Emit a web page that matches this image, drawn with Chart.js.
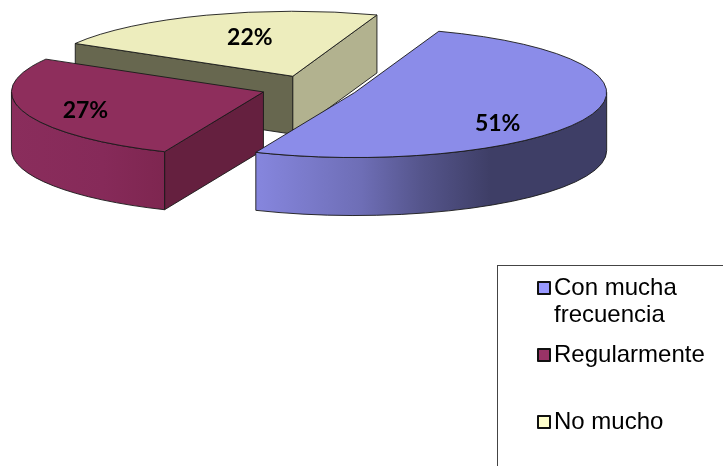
<!DOCTYPE html>
<html>
<head>
<meta charset="utf-8">
<title>Pie</title>
<script src="https://cdn.jsdelivr.net/npm/chart.js@4"></script>
<style>
  html, body { margin: 0; padding: 0; background: #fff; }
  #wrap { position: relative; width: 723px; height: 466px; overflow: hidden; }
  #legend {
    position: absolute; left: 497px; top: 265px; width: 240px; height: 220px;
    border: 1px solid #444; box-sizing: border-box;
    font: 24px/27px "Liberation Sans", Arial, sans-serif; color: #000;
  }
  .row { position: absolute; left: 56px; width: 140px; }
  .row i {
    position: absolute; left: -17px; top: 8px; width: 10px; height: 10px;
    border: 2px solid #111; border-radius: 1px;
  }
</style>
</head>
<body>
<div id="wrap">
  <canvas id="pie" width="723" height="466"></canvas>
  <div id="legend"></div>
</div>
<script>
const categories = ['Con mucha frecuencia', 'Regularmente', 'No mucho'];
const values = [51, 27, 22];
const valueLabels = ['51%', '27%', '22%'];

const topColors = ['#8b8ce9', '#8e2e5c', '#ededbd'];
const legendColors = ['#9999ff', '#993366', '#ffffcc'];
const startFaceColors = ['#3c3c64', '#65203f', '#67674f'];
const endFaceColors = ['#8585dc', '#65203f', '#b2b28f'];
const rimStops = [
  [[0, '#8686de'], [0.3, '#6e6eb6'], [0.47, '#55558c'], [0.67, '#3e3e66'], [1, '#3e3e66']],
  [[0, '#8a2d5c'], [0.6, '#862a59'], [1, '#7e2650']],
  [[0, '#b2b28f'], [1, '#b2b28f']]
];
// label position relative to the slice centre
const labelShift = [[143, 31], [-178, 19], [-43, -39]];

const ellipseA = 252;
const ellipseB = 65;
const depth = 58;
const explode = 48.5;
const edge = 'rgba(25,25,25,0.9)';

function drawSlice(ctx, el, i) {
  const s = el.startAngle, e = el.endAngle, mid = (s + e) / 2;
  const cx = el.x + Math.cos(mid) * explode;
  const cy = el.y + Math.sin(mid) * explode * ellipseB / ellipseA;
  const px = a => cx + Math.cos(a) * ellipseA;
  const py = a => cy + Math.sin(a) * ellipseB;

  const face = (a, color) => {
    ctx.beginPath();
    ctx.moveTo(cx, cy);
    ctx.lineTo(px(a), py(a));
    ctx.lineTo(px(a), py(a) + depth);
    ctx.lineTo(cx, cy + depth);
    ctx.closePath();
    ctx.fillStyle = color;
    ctx.fill();
    ctx.stroke();
  };

  ctx.lineWidth = 1;
  ctx.strokeStyle = edge;

  // side walls that look towards the viewer
  if (Math.sin(s - Math.PI / 2) > 0) face(s, startFaceColors[i]);
  if (Math.sin(e + Math.PI / 2) > 0) face(e, endFaceColors[i]);

  // outer rim, only the front half of the ellipse
  const a0 = Math.max(s, 0), a1 = Math.min(e, Math.PI);
  if (a1 > a0) {
    const left = a1 >= Math.PI ? cx - ellipseA : px(a1);
    const right = a0 <= 0 ? cx + ellipseA : px(a0);
    const grad = ctx.createLinearGradient(left, 0, right, 0);
    rimStops[i].forEach(st => grad.addColorStop(st[0], st[1]));
    ctx.beginPath();
    ctx.ellipse(cx, cy, ellipseA, ellipseB, 0, a0, a1);
    ctx.ellipse(cx, cy + depth, ellipseA, ellipseB, 0, a1, a0, true);
    ctx.closePath();
    ctx.fillStyle = grad;
    ctx.fill();
    ctx.stroke();
  }

  // top of the slice: the library's own arc, squashed into the ellipse
  ctx.save();
  ctx.translate(cx, cy);
  ctx.scale(ellipseA / el.outerRadius, ellipseB / el.outerRadius);
  ctx.translate(-el.x, -el.y);
  el.draw(ctx);
  ctx.restore();

  ctx.beginPath();
  ctx.moveTo(cx, cy);
  ctx.ellipse(cx, cy, ellipseA, ellipseB, 0, s, e);
  ctx.closePath();
  ctx.stroke();

  ctx.font = 'bold 23px Lato, sans-serif';
  ctx.fillStyle = '#000';
  ctx.textAlign = 'center';
  ctx.textBaseline = 'middle';
  ctx.fillText(valueLabels[i], cx + labelShift[i][0], cy + labelShift[i][1]);
}

const pie3d = {
  id: 'pie3d',
  beforeDatasetDraw(chart, args) {
    const ctx = chart.ctx;
    const arcs = args.meta.data;
    // back to front
    [2, 1, 0].forEach(i => drawSlice(ctx, arcs[i], i));
    return false;
  }
};

new Chart(document.getElementById('pie'), {
  type: 'pie',
  data: {
    labels: categories,
    datasets: [{
      data: values,
      backgroundColor: topColors,
      borderWidth: 0,
      hoverOffset: 0
    }]
  },
  options: {
    responsive: false,
    animation: false,
    events: [],
    rotation: 19.5,
    layout: { padding: { left: 0, right: 104, top: 1, bottom: 291 } },
    plugins: { legend: { display: false }, tooltip: { enabled: false } }
  },
  plugins: [pie3d]
});

const legendTops = [7, 74, 141];
const legend = document.getElementById('legend');
categories.forEach((name, i) => {
  const row = document.createElement('div');
  row.className = 'row';
  row.style.top = legendTops[i] + 'px';
  row.innerHTML = '<i style="background:' + legendColors[i] + '"></i>' + name;
  legend.appendChild(row);
});
</script>
</body>
</html>
